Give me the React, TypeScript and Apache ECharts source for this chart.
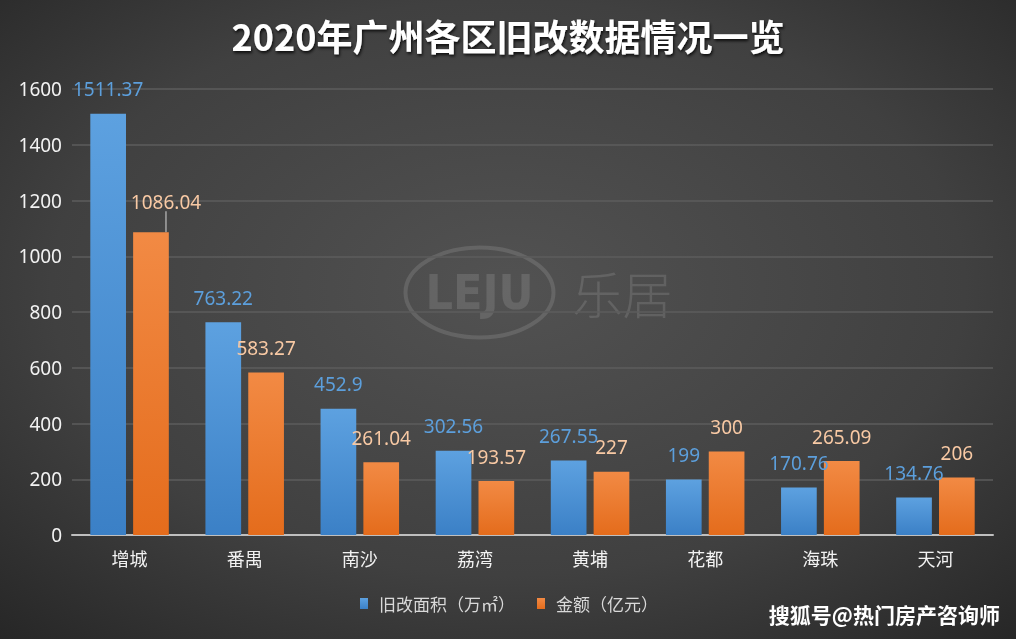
import React, { useEffect, useRef } from "react";
import * as echarts from "echarts";

const categories = ["增城", "番禺", "南沙", "荔湾", "黄埔", "花都", "海珠", "天河"];
const areaValues = [1511.37, 763.22, 452.9, 302.56, 267.55, 199, 170.76, 134.76];
const amountValues = [1086.04, 583.27, 261.04, 193.57, 227, 300, 265.09, 206];
const seriesNames = ["旧改面积（万㎡）", "金额（亿元）"];
const titleText = "2020年广州各区旧改数据情况一览";
const sourceText = "搜狐号@热门房产咨询师";

const FONT = "'Noto Sans CJK SC', 'Noto Sans', sans-serif";
const NUMFONT = "'Noto Sans', 'Noto Sans CJK SC', sans-serif";

export default function App() {
  const ref = useRef<HTMLDivElement>(null);
  useEffect(() => {
    if (!ref.current) return;
    const chart = echarts.init(ref.current, null, { renderer: "svg" });
    const wm = "rgba(255,255,255,0.12)";
    chart.setOption({
      animation: false,
      backgroundColor: {
        type: "radial",
        x: 0.5,
        y: 0.45,
        r: 0.75,
        colorStops: [
          { offset: 0, color: "#525252" },
          { offset: 0.6, color: "#404040" },
          { offset: 1, color: "#262626" },
        ],
      },
      title: {
        text: titleText,
        left: "center",
        top: 12,
        textStyle: {
          color: "#ffffff",
          fontSize: 36,
          fontWeight: "bold",
          fontFamily: FONT,
          textShadowColor: "rgba(0,0,0,0.8)",
          textShadowBlur: 3,
          textShadowOffsetX: 1,
          textShadowOffsetY: 2,
        },
      },
      graphic: [
        {
          type: "group",
          left: 403,
          top: 245,
          silent: true,
          children: [
            {
              type: "ellipse",
              shape: { cx: 75, cy: 46, rx: 74, ry: 45 },
              style: { fill: "none", stroke: wm, lineWidth: 4 },
            },
            {
              type: "text",
              x: 75,
              y: 45,
              style: {
                text: "LEJU",
                fill: wm,
                font: "bold 48px 'Liberation Sans Narrow', 'DejaVu Sans Condensed', sans-serif",
                align: "center",
                verticalAlign: "middle",
              },
            },
            {
              type: "text",
              x: 168,
              y: 45,
              style: {
                text: "乐居",
                fill: wm,
                font: "300 50px 'Noto Sans CJK SC'",
                verticalAlign: "middle",
              },
            },
          ],
        },
        {
          type: "text",
          right: 16,
          bottom: 15,
          style: {
            text: sourceText,
            fill: "#ffffff",
            font: "bold 21px 'Noto Sans CJK SC'",
            shadowColor: "rgba(0,0,0,0.9)",
            shadowBlur: 3,
            shadowOffsetX: 1,
            shadowOffsetY: 1,
          },
        },
      ],
      legend: {
        bottom: 22,
        left: 355,
        itemWidth: 8,
        itemHeight: 11,
        itemGap: 22,
        icon: "rect",
        textStyle: { color: "#d9d9d9", fontSize: 17, fontFamily: FONT, padding: [0, 0, 0, 6] },
        data: seriesNames,
      },
      grid: { left: 72, right: 23, top: 89, bottom: 104 },
      xAxis: {
        type: "category",
        data: categories,
        axisTick: { show: false },
        axisLine: { lineStyle: { color: "#bfbfbf", width: 2 } },
        axisLabel: { color: "#f2f2f2", fontSize: 18, fontFamily: FONT, margin: 14 },
      },
      yAxis: {
        type: "value",
        min: 0,
        max: 1600,
        interval: 200,
        axisLine: { show: false },
        axisTick: { show: false },
        splitLine: { lineStyle: { color: "#5c5c5c", width: 1.5 } },
        axisLabel: {
          color: "#f2f2f2",
          fontSize: 19,
          fontFamily: NUMFONT,
          margin: 10,
          formatter: (v: number) => String(v),
        },
      },
      series: [
        {
          name: seriesNames[0],
          type: "bar",
          data: areaValues,
          barWidth: "31%",
          barGap: "20%",
          itemStyle: {
            color: {
              type: "linear",
              x: 0, y: 0, x2: 0, y2: 1,
              colorStops: [
                { offset: 0, color: "#5da1e0" },
                { offset: 1, color: "#3b80c6" },
              ],
            },
          },
          label: {
            show: true,
            position: "top",
            distance: 15,
            color: "#5c9fdc",
            fontSize: 19,
            fontFamily: NUMFONT,
          },
        },
        {
          name: seriesNames[1],
          type: "bar",
          barWidth: "31%",
          data: amountValues.map((v, i) =>
            i === 0 ? { value: v, labelLine: { show: true, lineStyle: { color: "#a6a6a6", width: 1.5 } } } : v
          ),
          itemStyle: {
            color: {
              type: "linear",
              x: 0, y: 0, x2: 0, y2: 1,
              colorStops: [
                { offset: 0, color: "#f28a44" },
                { offset: 1, color: "#e46c1c" },
              ],
            },
          },
          labelLayout: (p: any) => (p.dataIndex === 0 ? { dx: 15, dy: -6 } : {}),
          label: {
            show: true,
            position: "top",
            distance: 15,
            color: "#f8c9a4",
            fontSize: 19,
            fontFamily: NUMFONT,
          },
        },
      ],
    });
    return () => chart.dispose();
  }, []);
  return (
    <div
      ref={ref}
      style={{ position: "fixed", left: 0, top: 0, width: 1016, height: 639 }}
    />
  );
}
